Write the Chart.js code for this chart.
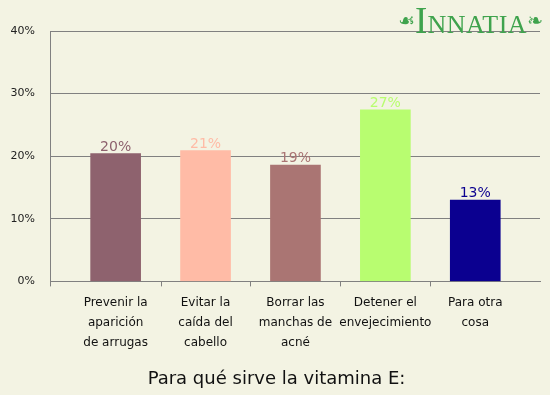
<!DOCTYPE html>
<html>
<head>
<meta charset="utf-8">
<script src="https://cdn.jsdelivr.net/npm/chart.js@4/dist/chart.umd.min.js"></script>
<style>
  body { margin: 0; background: #f3f3e3; }
  #wrap { position: relative; width: 550px; height: 395px; }
  #logo { position: absolute; left: 398px; top: -1px; color: #3fa34d; font-family: "Liberation Serif", serif; white-space: nowrap; }
  #logo .orn { font-family: "DejaVu Sans"; font-size: 19px; vertical-align: 6px; }
  #logo .big { font-size: 37px; }
  #logo .rest { font-size: 26px; letter-spacing: 0.5px; }
</style>
</head>
<body>
<div id="wrap">
  <canvas id="myChart" width="550" height="395"></canvas>
  <div id="logo"><span class="orn">☙</span><span class="big">I</span><span class="rest">NNATIA</span><span class="orn">❧</span></div>
</div>
<script>
var categorias = [
    ['Prevenir la', 'aparición', 'de arrugas'],
    ['Evitar la', 'caída del', 'cabello'],
    ['Borrar las', 'manchas de', 'acné'],
    ['Detener el', 'envejecimiento'],
    ['Para otra', 'cosa']
];
var valores = [20.4, 20.9, 18.6, 27.4, 13.0];
var colores = ['#8e626e', '#ffbba6', '#aa7573', '#b8fd70', '#0b0090'];
var ticksY = [0, 10, 20, 30, 40];
var titulo = 'Para qué sirve la vitamina E:';

const gris = '#808080';

// valores encima de cada barra
const etiquetas = {
    id: 'etiquetas',
    afterDatasetsDraw(chart) {
        const ctx = chart.ctx;
        const meta = chart.getDatasetMeta(0);
        ctx.save();
        ctx.font = '14px "DejaVu Sans"';
        ctx.textAlign = 'center';
        ctx.textBaseline = 'alphabetic';
        meta.data.forEach(function (bar, i) {
            ctx.fillStyle = colores[i];
            ctx.fillText(Math.round(valores[i]) + '%', bar.x, bar.y - 3);
        });
        ctx.restore();
    }
};

// marcas del eje x entre categorias
const marcas = {
    id: 'marcas',
    afterDraw(chart) {
        const ctx = chart.ctx;
        const a = chart.chartArea;
        const x = chart.scales.x;
        var pos = [a.left];
        for (let i = 0; i < categorias.length - 1; i++) {
            pos.push(x.getPixelForValue(i + 0.5));
        }
        ctx.save();
        ctx.strokeStyle = gris;
        ctx.lineWidth = 1;
        pos.forEach(function (p) {
            const px = Math.round(p) + 0.5;
            ctx.beginPath();
            ctx.moveTo(px, a.bottom);
            ctx.lineTo(px, a.bottom + 5);
            ctx.stroke();
        });
        ctx.restore();
    }
};

const data = {
    datasets: [{
        data: valores.map(function (v, i) { return { x: i, y: v }; }),
        backgroundColor: colores,
        borderWidth: 0,
        barThickness: 50
    }]
};

const config = {
    type: 'bar',
    data: data,
    options: {
        responsive: false,
        animation: false,
        layout: { padding: { top: 31, right: 0, left: 3, bottom: 0 } },
        plugins: {
            legend: { display: false },
            tooltip: { enabled: false },
            title: {
                display: true,
                position: 'bottom',
                text: titulo,
                color: '#111',
                font: { family: 'DejaVu Sans', size: 18, weight: 'normal' },
                padding: { top: 0, bottom: 5 }
            }
        },
        scales: {
            x: {
                type: 'linear',
                min: -0.73,
                max: 4.72,
                offset: false,
                afterFit: function (scale) { scale.height = 87; },
                afterBuildTicks: function (scale) {
                    scale.ticks = categorias.map(function (c, i) { return { value: i }; });
                },
                grid: { display: false, offset: false, drawTicks: false },
                border: { display: true, color: gris },
                ticks: {
                    autoSkip: false,
                    maxRotation: 0,
                    padding: 11,
                    color: '#111',
                    font: { family: 'DejaVu Sans', size: 12, lineHeight: 20 / 12 },
                    callback: function (v) { return categorias[v]; }
                }
            },
            y: {
                min: 0,
                max: 40,
                afterFit: function (scale) { scale.width = 47; },
                afterBuildTicks: function (scale) {
                    scale.ticks = ticksY.map(function (v) { return { value: v }; });
                },
                grid: { color: gris, drawTicks: false },
                border: { display: true, color: gris },
                ticks: {
                    padding: 15,
                    color: '#222',
                    font: { family: 'DejaVu Sans', size: 11 },
                    callback: function (v) { return v + '%'; }
                }
            },
            margen: {
                type: 'linear',
                position: 'right',
                afterFit: function (scale) { scale.width = 10; },
                grid: { display: false, drawTicks: false },
                border: { display: false },
                ticks: { display: false }
            }
        }
    },
    plugins: [etiquetas, marcas]
};

const myChart = new Chart(document.getElementById('myChart'), config);
</script>
</body>
</html>
